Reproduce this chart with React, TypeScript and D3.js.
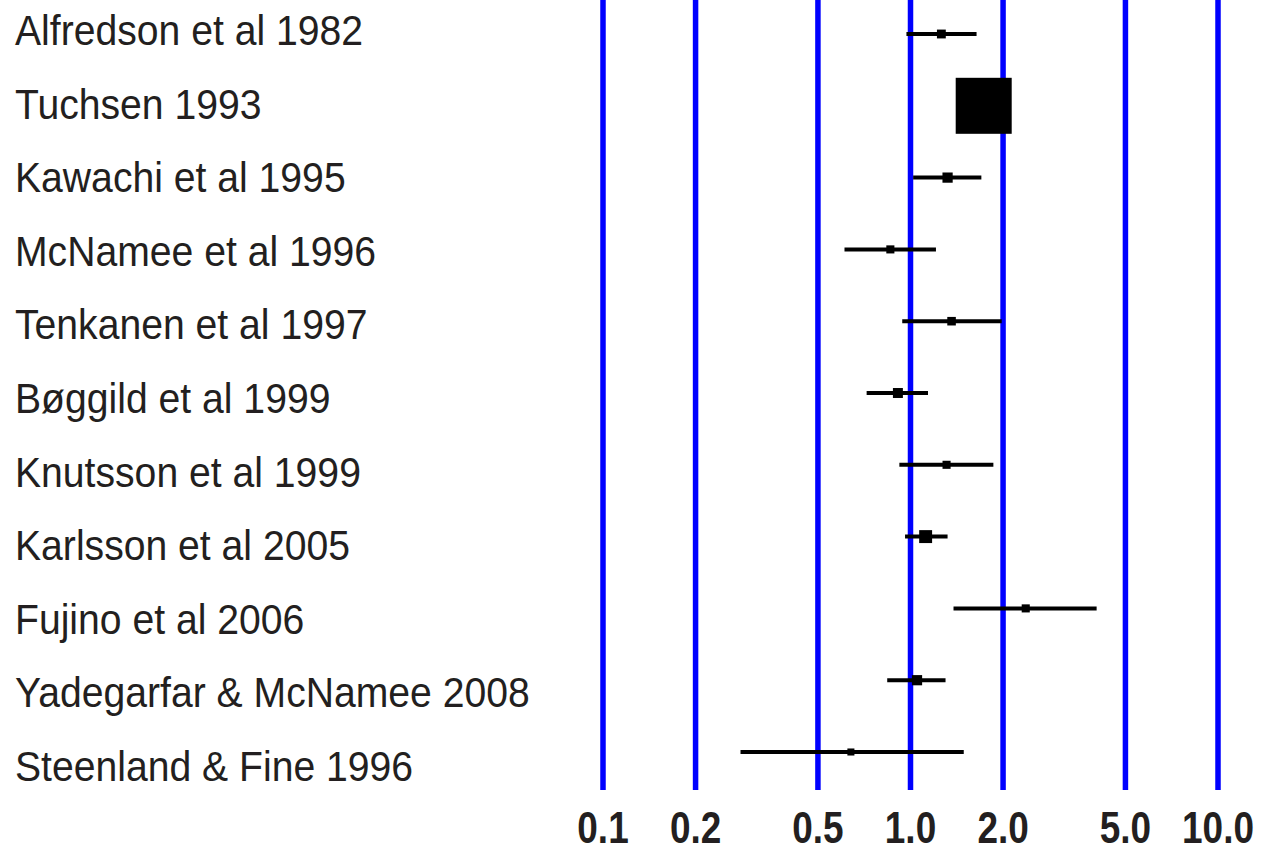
import * as d3 from 'd3';
import React, { useRef, useEffect } from 'react';

const studies = [
  'Alfredson et al 1982',
  'Tuchsen 1993',
  'Kawachi et al 1995',
  'McNamee et al 1996',
  'Tenkanen et al 1997',
  'Bøggild et al 1999',
  'Knutsson et al 1999',
  'Karlsson et al 2005',
  'Fujino et al 2006',
  'Yadegarfar & McNamee 2008',
  'Steenland & Fine 1996',
];
const estimates = [1.26, 1.73, 1.32, 0.86, 1.36, 0.91, 1.31, 1.12, 2.37, 1.05, 0.64];
const lower = [0.97, 1.6, 1.02, 0.61, 0.94, 0.72, 0.92, 0.96, 1.38, 0.84, 0.28];
const upper = [1.64, 1.86, 1.7, 1.21, 1.98, 1.14, 1.86, 1.32, 4.03, 1.3, 1.49];
const weights = [1.5, 60, 2.0, 1.25, 1.4, 1.9, 1.25, 3.2, 1.25, 2.0, 0.95];
const ticks = [0.1, 0.2, 0.5, 1, 2, 5, 10];
const tickLabels = ['0.1', '0.2', '0.5', '1.0', '2.0', '5.0', '10.0'];

const W = 1265;
const H = 852;
const FONT = '"Liberation Sans", Arial, sans-serif';

function ForestPlot() {
  const ref = useRef(null);

  useEffect(() => {
    const svg = d3.select(ref.current);
    svg.selectAll('*').remove();

    const x = d3.scaleLog().domain([0.1, 10]).range([603, 1218]);
    const y = d3.scalePoint().domain(studies).range([34, 752]);
    // label baselines sit on a slightly wider spacing than the marks
    const yLabel = d3.scalePoint().domain(studies).range([45, 781]);
    const size = d3.scaleSqrt().domain([0, 60]).range([0, 56]);

    const rows = studies.map((name, i) => ({
      name, est: estimates[i], lo: lower[i], hi: upper[i], w: weights[i],
    }));

    // reference lines
    svg.append('g')
      .selectAll('line')
      .data(ticks)
      .enter()
      .append('line')
      .attr('x1', d => x(d))
      .attr('x2', d => x(d))
      .attr('y1', 0)
      .attr('y2', 790)
      .attr('stroke', '#0000ff')
      .attr('stroke-width', 5.5);

    // tick labels (condensed bold)
    svg.append('g')
      .selectAll('text')
      .data(ticks)
      .enter()
      .append('text')
      .attr('transform', d => `translate(${x(d)},843) scale(0.84,1)`)
      .attr('text-anchor', 'middle')
      .attr('font-family', FONT)
      .attr('font-weight', 'bold')
      .attr('font-size', 44)
      .attr('fill', '#231f20')
      .text((d, i) => tickLabels[i]);

    // study labels (condensed)
    svg.append('g')
      .attr('transform', 'translate(15,0) scale(0.91,1)')
      .selectAll('text')
      .data(rows)
      .enter()
      .append('text')
      .attr('x', 0)
      .attr('y', d => yLabel(d.name))
      .attr('font-family', FONT)
      .attr('font-size', 43)
      .attr('fill', '#231f20')
      .text(d => d.name);

    // confidence intervals
    svg.append('g')
      .selectAll('line')
      .data(rows)
      .enter()
      .append('line')
      .attr('x1', d => x(d.lo))
      .attr('x2', d => x(d.hi))
      .attr('y1', d => y(d.name))
      .attr('y2', d => y(d.name))
      .attr('stroke', 'black')
      .attr('stroke-width', 4);

    // point estimates
    svg.append('g')
      .selectAll('rect')
      .data(rows)
      .enter()
      .append('rect')
      .attr('x', d => x(d.est) - size(d.w) / 2)
      .attr('y', d => y(d.name) - size(d.w) / 2)
      .attr('width', d => size(d.w))
      .attr('height', d => size(d.w))
      .attr('fill', 'black');
  }, []);

  return <svg ref={ref} width={W} height={H} style={{ display: 'block' }} />;
}

export default function App() {
  return (
    <div style={{ position: 'absolute', left: 0, top: 0 }}>
      <ForestPlot />
    </div>
  );
}
